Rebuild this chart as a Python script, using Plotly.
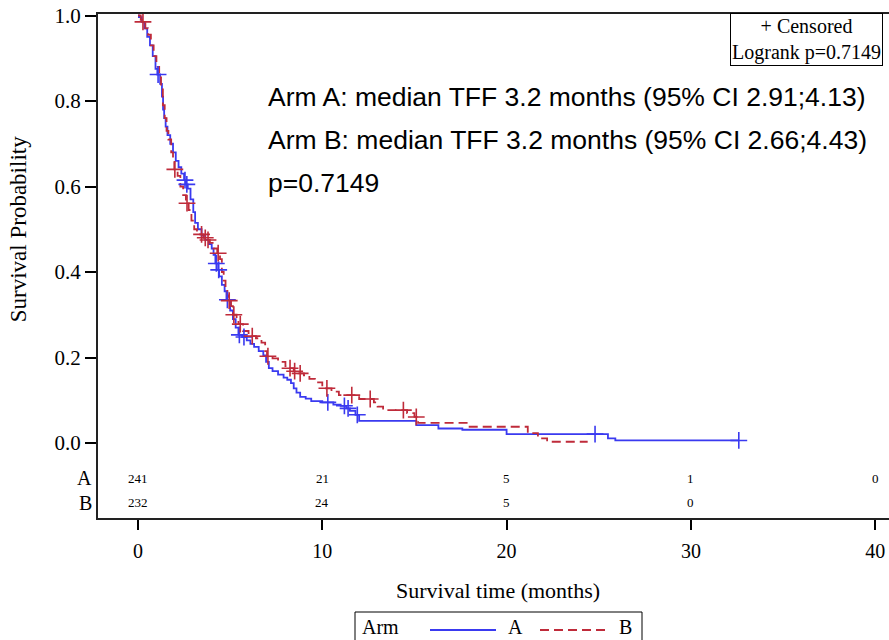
import plotly.graph_objects as go

# ---------------- data ----------------
a_time = [0, 0.05, 0.2, 0.35, 0.5, 0.65, 0.8, 0.95, 1.05, 1.2, 1.3, 1.36, 1.42, 1.5, 1.6, 1.75,
          1.9, 2.05, 2.2, 2.35, 2.5, 2.6, 2.7, 2.85, 3.0, 3.1, 3.25, 3.45, 3.65, 3.85, 4.0,
          4.1, 4.2, 4.35, 4.4, 4.55, 4.7, 4.8, 5.0, 5.15, 5.3, 5.45, 5.65, 5.9, 6.1, 6.3,
          6.55, 6.8, 6.95, 7.1, 7.3, 7.6, 7.9, 8.1, 8.3, 8.45, 8.6, 8.8, 9.1, 9.4, 10.0,
          10.6, 11.0, 11.3, 11.5, 11.8, 12.0, 15.1, 16.3, 17.6, 20.0, 25.5, 25.9, 32.6]
a_surv = [1.0, 0.996, 0.985, 0.97, 0.95, 0.93, 0.905, 0.875, 0.862, 0.84, 0.81, 0.78, 0.76, 0.74,
          0.72, 0.70, 0.68, 0.66, 0.645, 0.63, 0.615, 0.605, 0.595, 0.57, 0.54, 0.515, 0.50,
          0.485, 0.475, 0.465, 0.455, 0.44, 0.42, 0.405, 0.39, 0.37, 0.355, 0.335, 0.31, 0.29,
          0.27, 0.253, 0.248, 0.24, 0.232, 0.225, 0.215, 0.205, 0.19, 0.175, 0.168, 0.16,
          0.153, 0.148, 0.14, 0.128, 0.118, 0.108, 0.104, 0.098, 0.095, 0.09, 0.087, 0.081,
          0.075, 0.066, 0.052, 0.042, 0.034, 0.031, 0.021, 0.011, 0.006, 0.006]
a_cens_time = [1.09, 2.55, 2.65, 4.25, 4.38, 4.85, 5.5, 5.75, 10.3, 11.2, 11.4, 11.9, 24.8, 32.6]
a_cens_surv = [0.862, 0.615, 0.605, 0.42, 0.405, 0.335, 0.253, 0.248, 0.095, 0.087, 0.081,
               0.066, 0.021, 0.006]

b_time = [0, 0.15, 0.22, 0.4, 0.55, 0.7, 0.85, 1.0, 1.15, 1.25, 1.35, 1.45, 1.55, 1.65, 1.8,
          1.9, 1.97, 2.15, 2.3, 2.45, 2.6, 2.75, 2.9, 3.05, 3.2, 3.55, 3.75, 3.9, 4.1, 4.3,
          4.45, 4.55, 4.65, 4.75, 4.85, 4.92, 5.05, 5.15, 5.35, 5.45, 5.7, 6.0, 6.15, 6.4,
          6.7, 6.9, 7.0, 7.3, 7.6, 8.0, 8.2, 8.45, 8.7, 9.0, 9.3, 9.6, 10.0, 10.2, 10.5, 10.9,
          12.0, 12.8, 13.0, 13.3, 14.6, 15.0, 15.2, 17.9, 21.15, 21.7, 22.2, 24.4]
b_surv = [1.0, 0.99, 0.985, 0.97, 0.955, 0.93, 0.905, 0.88, 0.855, 0.83, 0.79, 0.76, 0.73, 0.71,
          0.68, 0.66, 0.64, 0.625, 0.60, 0.58, 0.561, 0.545, 0.52, 0.50, 0.488, 0.48, 0.475,
          0.468, 0.455, 0.444, 0.43, 0.40, 0.38, 0.36, 0.345, 0.333, 0.32, 0.30, 0.29, 0.278,
          0.262, 0.255, 0.25, 0.245, 0.235, 0.215, 0.203, 0.198, 0.19, 0.18, 0.175, 0.168,
          0.163, 0.158, 0.15, 0.142, 0.135, 0.128, 0.12, 0.112, 0.103, 0.095, 0.085, 0.077,
          0.07, 0.061, 0.047, 0.038, 0.023, 0.011, 0.003, 0.003]
b_cens_time = [0.27, 2.0, 2.66, 3.45, 3.65, 3.8, 4.35, 4.95, 5.2, 5.55, 6.2, 7.05, 8.25, 8.5,
               8.8, 10.25, 11.6, 12.6, 14.4, 15.1]
b_cens_surv = [0.985, 0.64, 0.561, 0.488, 0.48, 0.475, 0.444, 0.333, 0.30, 0.278, 0.25, 0.203,
               0.175, 0.168, 0.163, 0.128, 0.112, 0.103, 0.077, 0.061]

risk_times = [0, 10, 20, 30, 40]
risk_a = ["241", "21", "5", "1", "0"]
risk_b = ["232", "24", "5", "0", ""]

y_ticks = [0.0, 0.2, 0.4, 0.6, 0.8, 1.0]
y_tick_labels = ["0.0", "0.2", "0.4", "0.6", "0.8", "1.0"]
x_ticks = [0, 10, 20, 30, 40]

info_lines = ["Arm A: median TFF 3.2 months (95% CI 2.91;4.13)",
              "Arm B: median TFF 3.2 months (95% CI 2.66;4.43)",
              "p=0.7149"]

# ---------------- style ----------------
BLUE = "#3a3af0"
RED = "#bf2b3a"
RED_DASH = "9px,5px"
SERIF = "Liberation Serif"
SANS = "Liberation Sans"

# plot-area geometry in pixels (for paper-coordinate placement of legend items)
L, R, T, B = 98, 889, 14, 518
def px(xp):
    return (xp - L) / (R - L)
def py(yp):
    return (B - yp) / (B - T)

fig = go.Figure()
fig.add_trace(go.Scatter(x=a_time, y=a_surv, mode="lines", name="A", showlegend=False,
                         line=dict(shape="hv", color=BLUE, width=1.8)))
fig.add_trace(go.Scatter(x=b_time, y=b_surv, mode="lines", name="B", showlegend=False,
                         line=dict(shape="hv", color=RED, width=1.8, dash=RED_DASH)))
fig.add_trace(go.Scatter(x=a_cens_time, y=a_cens_surv, mode="markers", showlegend=False,
                         marker=dict(symbol="cross-thin", size=12, color=BLUE,
                                     line=dict(color=BLUE, width=1.6))))
fig.add_trace(go.Scatter(x=b_cens_time, y=b_cens_surv, mode="markers", showlegend=False,
                         marker=dict(symbol="cross-thin", size=12, color=RED,
                                     line=dict(color=RED, width=1.6))))

ann = []
# at-risk table
for t, va, vb in zip(risk_times, risk_a, risk_b):
    ann.append(dict(x=t, y=-0.082, xref="x", yref="y", text=va, showarrow=False,
                    font=dict(family=SERIF, size=13, color="black")))
    if vb:
        ann.append(dict(x=t, y=-0.140, xref="x", yref="y", text=vb, showarrow=False,
                        font=dict(family=SERIF, size=13, color="black")))
for lab, yy in (("A", -0.082), ("B", -0.140)):
    ann.append(dict(x=0, y=yy, xref="paper", yref="y", text=lab, showarrow=False,
                    xanchor="right", xshift=-4,
                    font=dict(family=SERIF, size=20, color="black")))
# info text
for txt, yy in zip(info_lines, (0.809, 0.709, 0.608)):
    ann.append(dict(x=6.95, y=yy, xref="x", yref="y", text=txt, showarrow=False,
                    xanchor="left", yanchor="middle",
                    font=dict(family=SANS, size=26.5, color="black")))
# censored / logrank box
ann.append(dict(x=px(883), y=1.002, xref="paper", yref="paper",
                text="+ Censored<br>Logrank p=0.7149", showarrow=False,
                xanchor="right", yanchor="top", align="center",
                bordercolor="black", borderwidth=1, borderpad=1, bgcolor="white",
                font=dict(family=SERIF, size=20, color="black")))
# axis titles
ann.append(dict(x=px(18), y=0.5, xref="paper", yref="y", text="Survival Probability",
                showarrow=False, textangle=-90, xanchor="center", yanchor="middle",
                font=dict(family=SERIF, size=23, color="black")))
ann.append(dict(x=px(498), y=py(590), xref="paper", yref="paper",
                text="Survival time (months)",
                showarrow=False, xanchor="center", yanchor="middle",
                font=dict(family=SERIF, size=22, color="black")))
# legend (drawn manually so the line samples are as long as in the reference)
leg_y = py(630)
leg_txt_y = py(627)
for txt, xx, anc in (("Arm", 361, "left"), ("A", 515, "center"), ("B", 625, "center")):
    ann.append(dict(x=px(xx), y=leg_txt_y, xref="paper", yref="paper", text=txt,
                    showarrow=False, xanchor=anc, yanchor="middle", borderpad=0,
                    font=dict(family=SERIF, size=20, color="black")))

shapes = [
    dict(type="rect", xref="paper", yref="paper", x0=px(355), x1=px(642),
         y0=py(612), y1=py(660), line=dict(color="black", width=1), fillcolor="rgba(0,0,0,0)"),
    dict(type="line", xref="paper", yref="paper", x0=px(430), x1=px(496),
         y0=leg_y, y1=leg_y, line=dict(color=BLUE, width=1.8)),
    dict(type="line", xref="paper", yref="paper", x0=px(540), x1=px(608),
         y0=leg_y, y1=leg_y, line=dict(color=RED, width=1.8, dash=RED_DASH)),
]

fig.update_layout(
    width=889, height=640,
    margin=dict(l=L, r=889 - R, t=T, b=640 - B, autoexpand=False),
    paper_bgcolor="white", plot_bgcolor="white",
    showlegend=False,
    annotations=ann, shapes=shapes,
    xaxis=dict(range=[-2.17, 40.75], tickvals=x_ticks, ticks="outside", ticklen=10,
               tickwidth=1.5, tickcolor="black", showline=True, linecolor="#222",
               linewidth=2, mirror=True, showgrid=False, zeroline=False,
               ticklabelstandoff=4,
               tickfont=dict(family=SERIF, size=20, color="black")),
    yaxis=dict(range=[-0.1754, 1.0035], tickvals=y_ticks, ticktext=y_tick_labels,
               ticks="outside", ticklen=11, tickwidth=1.5, tickcolor="black",
               showline=True, linecolor="#222", linewidth=2, showgrid=False,
               zeroline=False,
               tickfont=dict(family=SERIF, size=21, color="black")),
)

fig.write_html("out.html")
